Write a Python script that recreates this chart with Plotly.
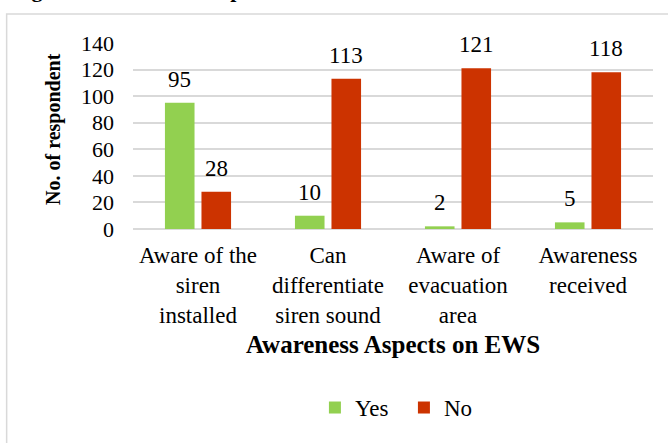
import plotly.graph_objects as go

categories = ["Aware of the<br>siren<br>installed", "Can<br>differentiate<br>siren sound",
              "Aware of<br>evacuation<br>area", "Awareness<br>received"]
yes_values = [95, 10, 2, 5]
no_values = [28, 113, 121, 118]
y_ticks = [0, 20, 40, 60, 80, 100, 120, 140]

GREEN = "#92D050"
RED = "#CC3300"
FONT = "Liberation Serif, Times New Roman, serif"
GRID = "#D9D9D9"

fig = go.Figure()
fig.add_trace(go.Bar(name="Yes", x=categories, y=yes_values, marker=dict(color=GREEN, line=dict(width=0))))
fig.add_trace(go.Bar(name="No", x=categories, y=no_values, marker=dict(color=RED, line=dict(width=0))))

annotations = []
for series, shift in ((yes_values, -18.3), (no_values, 18.3)):
    for c, v in zip(categories, series):
        annotations.append(dict(x=c, y=v, xref="x", yref="y", text=str(v), showarrow=False,
                                yanchor="bottom", xshift=shift, yshift=9,
                                font=dict(family=FONT, size=23, color="#000")))

annotations.append(dict(x=-0.2365, y=1.21, xref="paper", yref="paper", xanchor="left", yanchor="bottom",
                        text="<b>Figure 6: Awareness Aspects on EWS</b>", showarrow=False,
                        font=dict(family=FONT, size=22, color="#000")))
annotations.append(dict(x=-0.154, y=0.5376, xref="paper", yref="paper", xanchor="center", yanchor="middle",
                        text="<b>No. of respondent</b>", textangle=-90, showarrow=False,
                        font=dict(family=FONT, size=20, color="#000")))

fig.update_layout(
    width=668, height=443,
    margin=dict(l=133, r=15, t=43, b=214, autoexpand=False),
    paper_bgcolor="white", plot_bgcolor="white",
    barmode="group", bargap=0.438, bargroupgap=0.19,
    font=dict(family=FONT, size=22, color="#000"),
    showlegend=True,
    legend=dict(orientation="h", x=0.521, xanchor="center", y=-0.96, yanchor="middle",
                font=dict(family=FONT, size=23, color="#000"), itemwidth=30, entrywidth=44,
                traceorder="normal"),
    annotations=annotations,
    shapes=[dict(type="rect", xref="paper", yref="paper", x0=-0.243, x1=1.05, y0=-1.2, y1=1.156,
                 line=dict(color=GRID, width=1.5), fillcolor="rgba(0,0,0,0)", layer="below")],
)
fig.update_xaxes(showgrid=False, showline=False, ticks="", ticklabelstandoff=10, automargin=False,
                 tickfont=dict(family=FONT, size=23, color="#000"),
                 title=dict(text="<b>Awareness Aspects on EWS</b>", standoff=8,
                            font=dict(family=FONT, size=25, color="#000")))
fig.update_yaxes(range=[0, 140], tickvals=y_ticks, showgrid=True, gridcolor=GRID, gridwidth=1.5,
                 zeroline=True, zerolinecolor=GRID, zerolinewidth=1.5, showline=False, ticks="",
                 automargin=False,
                 ticklabelstandoff=18, tickfont=dict(family=FONT, size=22, color="#000"))

fig.write_html("out.html", config={"displayModeBar": False},
               post_script="document.body.style.margin='0';document.body.style.overflow='hidden';")
